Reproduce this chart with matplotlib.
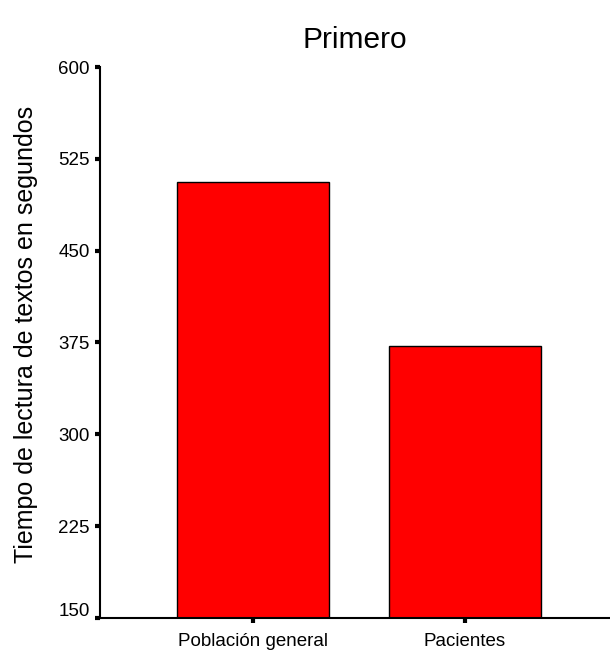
import matplotlib.pyplot as plt
import matplotlib.transforms as mtransforms

plt.rcParams['font.family'] = ['Liberation Sans', 'DejaVu Sans']

# data
groups = ['Población general', 'Pacientes']
reading_time = [506, 372]
y_ticks = [150, 225, 300, 375, 450, 525, 600]

fig = plt.figure(figsize=(6.1, 6.52), dpi=100)
ax = fig.add_axes([100 / 610, 1 - 618 / 652, 509 / 610, (618 - 67) / 652])

x = list(range(len(groups)))
ax.bar(x, reading_time, width=0.72, color='#ff0000', edgecolor='black', linewidth=1.0, zorder=2)

ax.set_ylim(150, 600)
ax.set_xlim(-0.721, 1.68)
ax.set_yticks(y_ticks)
ax.set_xticks(x)
ax.set_xticklabels(groups)

for side in ['top', 'right']:
    ax.spines[side].set_visible(False)
ax.spines['left'].set_linewidth(1.5)
ax.spines['bottom'].set_linewidth(1.5)

ax.tick_params(axis='both', direction='out', length=3.5, width=3, labelsize=13.5, color='black')
ax.tick_params(axis='y', pad=4)
ax.tick_params(axis='x', pad=7)

# bottom y label sits a bit higher, as in the original
lbl = ax.get_yticklabels()[0]
lbl.set_transform(lbl.get_transform() + mtransforms.ScaledTranslation(0, 6 / 72, fig.dpi_scale_trans))

ax.set_ylabel('Tiempo de lectura de textos en segundos', fontsize=18)
ax.yaxis.set_label_coords(-0.121, 0.515)
ax.set_title('Primero', fontsize=21.5, pad=14)

fig.savefig('out.png', dpi=100)
